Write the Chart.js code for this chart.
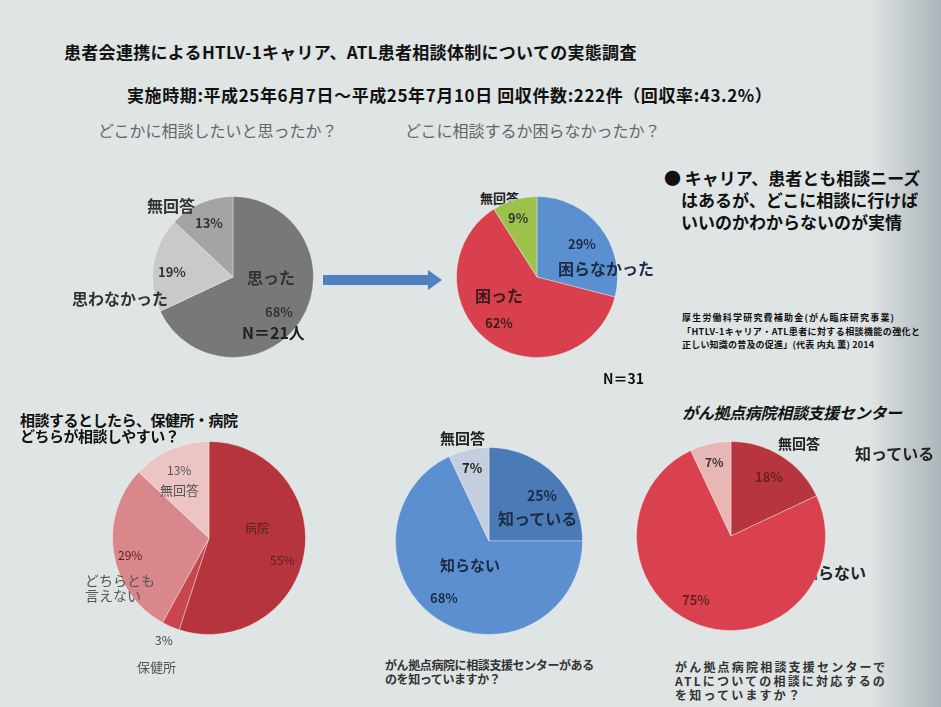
<!DOCTYPE html>
<html lang="ja">
<head>
<meta charset="utf-8">
<script src="https://cdn.jsdelivr.net/npm/chart.js@4.4.0/dist/chart.umd.min.js"></script>
<style>
	html, body { margin: 0; padding: 0; }
	body {
		width: 941px; height: 707px; position: relative; overflow: hidden;
		background: #dfe4e4;
		font-family: "Noto Sans CJK JP", "Noto Sans", sans-serif;
	}
	#edge {
		position: absolute; left: 870px; top: 0; width: 71px; height: 707px;
		background: linear-gradient(to right, rgba(170,180,184,0) 0%, rgba(170,180,184,0.55) 55%, rgba(160,170,176,0.8) 100%);
		z-index: 0;
	}
	.pie { position: absolute; z-index: 2; }
	.t { position: absolute; white-space: nowrap; z-index: 3; }
	.back { z-index: 1; }
	#arrow { position: absolute; left: 320px; top: 266px; z-index: 2; }
</style>
</head>
<body>
<div id="edge"></div>
<svg id="arrow" width="126" height="28">
	<rect x="3" y="9" width="107" height="10" fill="#5080c0"></rect>
	<polygon points="108,4 122,14 108,24" fill="#5080c0"></polygon>
</svg>
<script>
	// 各円グラフのデータ
	var q1Labels = ['思った', '思わなかった', '無回答'];
	var q1Values = [68, 19, 13];
	var q1Colors = ['#787878', '#c9c9c9', '#a4a4a4'];

	var q2Labels = ['困らなかった', '困った', '無回答'];
	var q2Values = [29, 62, 9];
	var q2Colors = ['#5a8fd0', '#d8404e', '#9dc24c'];

	var q3Labels = ['病院', '保健所', 'どちらとも言えない', '無回答'];
	var q3Values = [55, 3, 29, 13];
	var q3Colors = ['#b5343e', '#c94650', '#da878c', '#edc4c4'];

	var q4Labels = ['知っている', '知らない', '無回答'];
	var q4Values = [25, 68, 7];
	var q4Colors = ['#4b7bb6', '#5b8fd0', '#c3cfdf'];

	var q5Labels = ['知っている', '知らない', '無回答'];
	var q5Values = [18, 75, 7];
	var q5Colors = ['#b6353f', '#d8414d', '#e9b6b6'];

	function pct(v) { return v + '%'; }

	function makePie(labels, values, colors, cx, cy, r) {
		var size = r * 2 + 2;
		var cv = document.createElement('canvas');
		cv.className = 'pie';
		cv.width = size; cv.height = size;
		cv.style.left = (cx - r - 1) + 'px';
		cv.style.top = (cy - r - 1) + 'px';
		cv.style.width = size + 'px';
		cv.style.height = size + 'px';
		document.body.appendChild(cv);
		return new Chart(cv.getContext('2d'), {
			type: 'pie',
			data: {
				labels: labels,
				datasets: [{
					data: values,
					backgroundColor: colors,
					borderColor: 'rgba(255,255,255,0.35)',
					borderWidth: 1,
					hoverOffset: 0
				}]
			},
			options: {
				responsive: false,
				animation: false,
				layout: { padding: 0 },
				plugins: { legend: { display: false }, tooltip: { enabled: false } }
			}
		});
	}

	function label(text, x, y, size, color, weight, extra) {
		var d = document.createElement('div');
		d.className = 't' + (extra && extra.back ? ' back' : '');
		d.textContent = text;
		d.style.left = x + 'px';
		d.style.top = (y - size * 0.65) + 'px';
		d.style.fontSize = size + 'px';
		d.style.lineHeight = (size * 1.3) + 'px';
		d.style.color = color || '#222';
		d.style.fontWeight = weight || 700;
		if (extra && extra.ls != null) d.style.letterSpacing = extra.ls + 'px';
		if (extra && extra.italic) d.style.fontStyle = 'italic';
		document.body.appendChild(d);
		return d;
	}

	makePie(q1Labels, q1Values, q1Colors, 233, 277, 80);
	makePie(q2Labels, q2Values, q2Colors, 537, 277, 80);
	makePie(q3Labels, q3Values, q3Colors, 209, 538, 96);
	makePie(q4Labels, q4Values, q4Colors, 489, 541, 93);
	makePie(q5Labels, q5Values, q5Colors, 731, 536, 94);

	// 見出し
	label('患者会連携によるHTLV-1キャリア、ATL患者相談体制についての実態調査', 64, 52, 17, '#111', 700, { ls: 0.3 });
	label('実施時期:平成25年6月7日～平成25年7月10日 回収件数:222件（回収率:43.2%）', 127, 95, 17, '#111', 700, { ls: 0.6 });
	label('どこかに相談したいと思ったか？', 98, 130, 16, '#666', 400);
	label('どこに相談するか困らなかったか？', 405, 130, 16, '#666', 400);

	// 円1
	label(q1Labels[2], 147, 205, 16, '#333', 700);
	label(pct(q1Values[2]), 195, 223, 13, '#333', 700);
	label(pct(q1Values[1]), 158, 272, 13, '#333', 700);
	label(q1Labels[1], 72, 298, 16, '#333', 700);
	label(q1Labels[0], 247, 277, 16, '#333', 700);
	label(pct(q1Values[0]), 265, 312, 13, '#333', 700);
	label('N＝21人', 242, 332, 16, '#222', 700);

	// 円2
	label(q2Labels[2], 480, 198, 13, '#222', 700, { back: true });
	label(pct(q2Values[2]), 508, 218, 13, '#333', 700);
	label(pct(q2Values[0]), 568, 244, 13, '#1c2a44', 700);
	label(q2Labels[0], 558, 268, 16, '#1c2a44', 700);
	label(q2Labels[1], 475, 295, 16, '#3a1c1c', 700);
	label(pct(q2Values[1]), 485, 323, 13, '#3a1c1c', 700);
	label('N＝31', 603, 378, 14, '#111', 700);

	// 右上のコメント
	label('● キャリア、患者とも相談ニーズ', 664, 178, 17, '#111', 700);
	label('はあるが、どこに相談に行けば', 681, 200, 17, '#111', 700);
	label('いいのかわからないのが実情', 681, 222, 17, '#111', 700);
	label('厚生労働科学研究費補助金(がん臨床研究事業)', 682, 318, 9, '#111', 700, { ls: 1.2 });
	label('「HTLV-1キャリア・ATL患者に対する相談機能の強化と', 682, 332, 9, '#111', 700, { ls: 0.4 });
	label('正しい知識の普及の促進」(代表 内丸 薫) 2014', 682, 345, 9, '#111', 700, { ls: 0.2 });

	// 円3
	label('相談するとしたら、保健所・病院', 20, 420, 15, '#111', 700, { ls: -0.5 });
	label('どちらが相談しやすい？', 20, 436, 15, '#111', 700, { ls: -0.5 });
	label(pct(q3Values[3]), 167, 470, 12, '#555', 400);
	label(q3Labels[3], 160, 490, 13, '#555', 400);
	label(q3Labels[0], 245, 528, 12, '#5a2020', 400);
	label(pct(q3Values[0]), 270, 560, 12, '#5a2020', 400);
	label(pct(q3Values[2]), 118, 555, 12, '#5a2020', 400);
	label('どちらとも', 85, 580, 14, '#555', 400);
	label('言えない', 85, 595, 14, '#555', 400);
	label(pct(q3Values[1]), 155, 640, 12, '#444', 400);
	label(q3Labels[1], 137, 667, 13, '#555', 400);

	// 円4
	label(q4Labels[2], 440, 438, 15, '#222', 700);
	label(pct(q4Values[2]), 462, 468, 13, '#222', 700);
	label(pct(q4Values[0]), 527, 495, 14, '#1c2a44', 700);
	label(q4Labels[0], 498, 518, 16, '#1c2a44', 700);
	label(q4Labels[1], 440, 565, 15, '#1c2a44', 700);
	label(pct(q4Values[1]), 430, 598, 13, '#1c2a44', 700);
	label('がん拠点病院に相談支援センターがある', 385, 665, 12, '#333', 700, { ls: -0.4 });
	label('のを知っていますか？', 385, 679, 12, '#333', 700, { ls: -0.4 });

	// 円5
	label('がん拠点病院相談支援センター', 682, 412, 16, '#111', 700, { italic: true, ls: -0.3 });
	label(q5Labels[2], 778, 443, 14, '#222', 700);
	label(q5Labels[0], 855, 453, 16, '#222', 700);
	label(pct(q5Values[2]), 705, 462, 12, '#333', 700);
	label(pct(q5Values[0]), 755, 477, 13, '#6a2020', 700);
	label(q5Labels[1], 802, 572, 16, '#222', 700, { back: true });
	label(pct(q5Values[1]), 682, 600, 13, '#6a2020', 700);
	label('がん拠点病院相談支援センターで', 675, 667, 12, '#333', 700, { ls: 2.2 });
	label('ATLについての相談に対応するの', 675, 681, 12, '#333', 700, { ls: 2.2 });
	label('を知っていますか？', 675, 695, 12, '#333', 700, { ls: 2.2 });
</script>
</body>
</html>
